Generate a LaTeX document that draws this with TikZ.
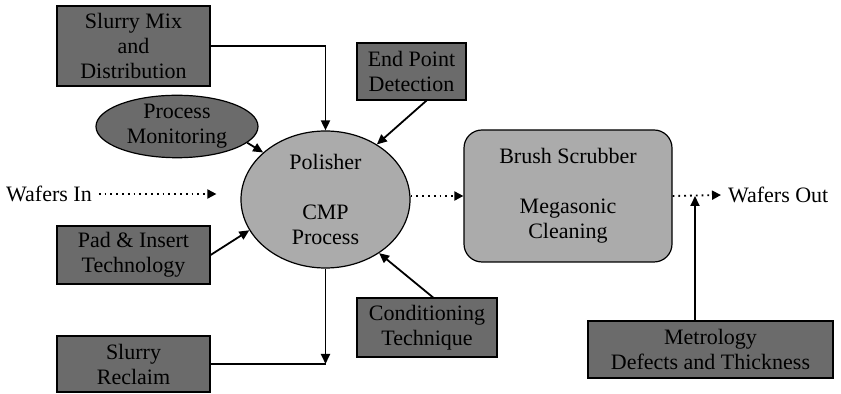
\documentclass[tikz,border=0pt]{standalone}
\usepackage{fontspec}
\setmainfont{Liberation Serif}
\usepackage{xcolor}
\usepackage{tikz}
\usetikzlibrary{arrows.meta, positioning, shapes.geometric, calc}
\definecolor{darkfill}{HTML}{6B6B6B}
\definecolor{lightfill}{HTML}{ABABAB}
\tikzstyle{unit}    = [rectangle, draw=black, fill=darkfill, line width=0.6pt, align=center, inner sep=2pt]
\tikzstyle{cleaner} = [rectangle, rounded corners=9pt, draw=black, fill=lightfill, line width=0.6pt, align=center]
\tikzstyle{tool}    = [ellipse, draw=black, fill=lightfill, line width=0.6pt, align=center, inner sep=0pt]
\tikzstyle{monitor} = [ellipse, draw=black, fill=darkfill, line width=0.6pt, align=center, inner sep=0pt]
\tikzstyle{arrow}   = [line width=0.9pt, -{Triangle[length=5pt,width=4.5pt]}]
\tikzstyle{flow}    = [line width=0.9pt, dotted, -{Triangle[length=4.5pt,width=4.5pt]}]

\begin{document}
\begin{tikzpicture}[x=0.5pt, y=-0.5pt, font=\fontsize{11}{12.5}\selectfont]
\useasboundingbox (0,0) rectangle (841,394);
% main tools
\node (polisher) [tool, minimum width=84.5pt, minimum height=68.5pt] at (325.5,199.5) {Polisher\\ \\CMP\\Process};
\node (brush) [cleaner, minimum width=104pt, minimum height=66pt] at (568,196) {Brush Scrubber\\ \\Megasonic\\Cleaning};
% inputs
\node (slurrymix) [unit, minimum width=76.5pt, minimum height=40pt] at (133.5,46) {Slurry Mix\\and\\Distribution};
\node (monitoring) [monitor, minimum width=81pt, minimum height=30.5pt] at (177,126.5) {Process\\Monitoring};
\node (endpoint) [unit, minimum width=54.5pt, minimum height=28.5pt] at (411.5,71.5) {End Point\\Detection};
\node (pad) [unit, minimum width=76.5pt, minimum height=29pt] at (133.5,255) {Pad \& Insert\\Technology};
\node (reclaim) [unit, minimum width=76.5pt, minimum height=28pt] at (133.5,364) {Slurry\\Reclaim};
\node (conditioning) [unit, minimum width=70pt, minimum height=29.5pt] at (427,327.5) {Conditioning\\Technique};
\node (metrology) [unit, minimum width=122.5pt, minimum height=28.5pt] at (710.5,349.5) {Metrology\\Defects and Thickness};
% wafer flow
\node (wafersin) at (49,194) {Wafers In};
\node (wafersout) [anchor=west] at (721,195) {Wafers Out};
\coordinate (join) at (695,196);

\draw [flow] (wafersin.east) -- (wafersin.east -| polisher.west) [shorten >=12pt];
\draw [flow] (polisher.east |- brush.west) -- (brush.west);
\draw [flow] (brush.east) -- (wafersout.west);

\draw [arrow] (slurrymix.east) -- (slurrymix.east -| polisher.north) -- (polisher.north);
\draw [arrow] (monitoring.-13) -- (polisher.143);
\draw [arrow] ([xshift=7.5pt]endpoint.south) -- (polisher.47);
\draw [arrow] (pad.east) -- (polisher.202);
\draw [arrow] ([xshift=3pt]conditioning.north) -- (polisher.-45);
\coordinate (drop) at (polisher.south |- reclaim.east);
\draw [arrow] (polisher.south) -- (drop);
\draw [line width=0.9pt] (reclaim.east) -- (drop);
\draw [arrow] (metrology.north -| join) -- (join);
\end{tikzpicture}
\end{document}
